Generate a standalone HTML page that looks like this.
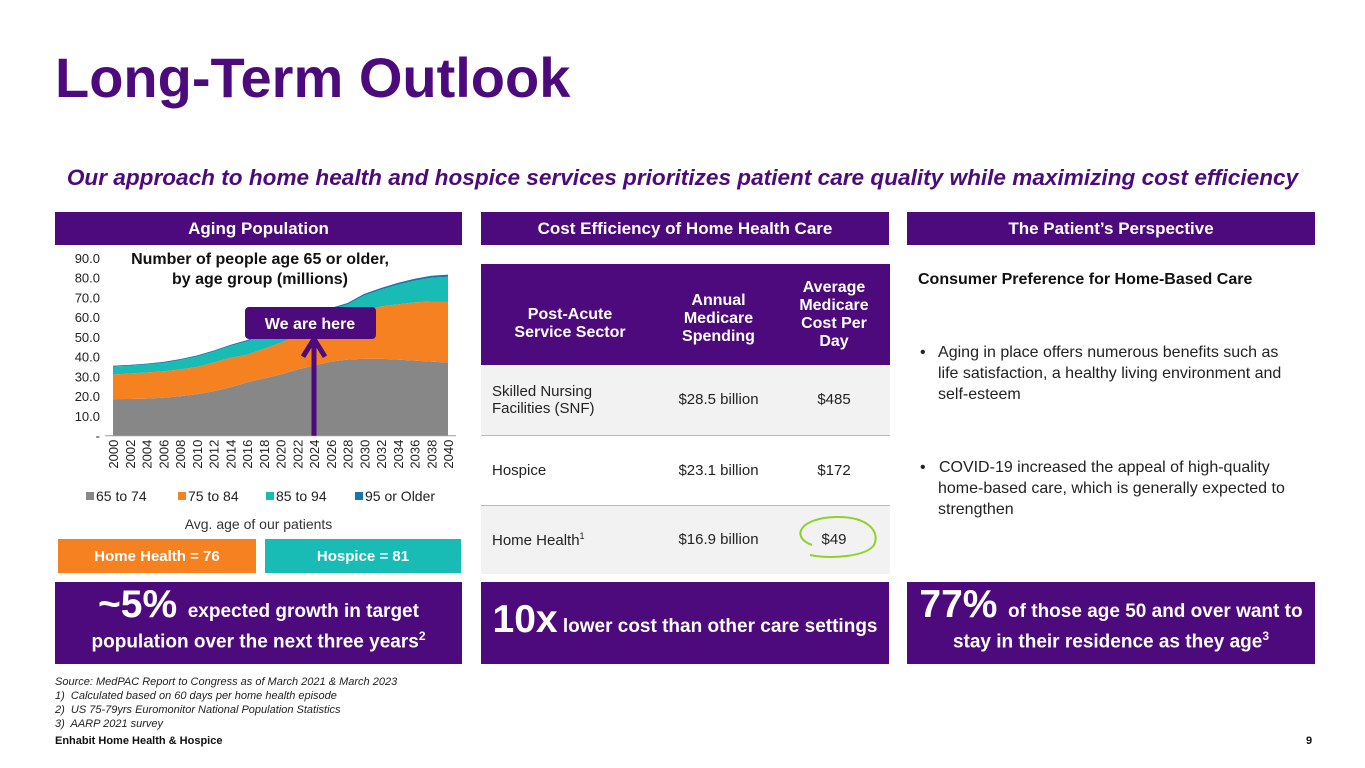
<!DOCTYPE html>
<html><head><meta charset="utf-8"><style>
body{margin:0;width:1365px;height:768px;background:#fff;font-family:"Liberation Sans",sans-serif;position:relative;overflow:hidden}
.a{position:absolute}
.hdr{position:absolute;top:212px;height:33px;background:#4d0a7c;color:#fff;font-weight:bold;font-size:17px;display:flex;align-items:center;justify-content:center}
.box{position:absolute;top:582px;height:82px;background:#4d0a7c;color:#fff;font-weight:bold;display:flex;flex-direction:column;align-items:center;justify-content:center;text-align:center;font-size:19px;line-height:25px}
.big{font-size:39px}
table{border-collapse:collapse}
td{font-size:15px;color:#222}
</style></head><body>
<div class="a" style="left:55px;top:45px;font-size:56px;font-weight:bold;color:#4d0a7c">Long-Term Outlook</div>
<div class="a" style="left:0;width:1365px;top:165px;text-align:center;font-size:22.6px;font-weight:bold;font-style:italic;color:#4d0a7c">Our approach to home health and hospice services prioritizes patient care quality while maximizing cost efficiency</div>
<div class="hdr" style="left:55px;width:407px">Aging Population</div>
<div class="hdr" style="left:481px;width:408px">Cost Efficiency of Home Health Care</div>
<div class="hdr" style="left:907px;width:408px">The Patient’s Perspective</div>

<svg class="a" style="left:0;top:245px" width="470" height="290" id="chart"></svg>
<div class="a" style="left:110px;top:250px;width:300px;text-align:center;font-size:16px;font-weight:bold;line-height:20px;color:#111">Number of people age 65 or older,<br>by age group (millions)</div>

<div class="a" style="left:55px;width:407px;top:516px;text-align:center;font-size:14px;color:#333">Avg. age of our patients</div>
<div class="a" style="left:58px;top:539px;width:198px;height:34px;background:#f68121;color:#fff;font-weight:bold;font-size:15px;display:flex;align-items:center;justify-content:center">Home Health = 76</div>
<div class="a" style="left:265px;top:539px;width:196px;height:34px;background:#18bcb5;color:#fff;font-weight:bold;font-size:15px;display:flex;align-items:center;justify-content:center">Hospice = 81</div>

<table class="a" style="left:481px;top:264px;width:409px">
<tr style="background:#4d0a7c;height:101px;color:#fff;font-weight:bold;text-align:center">
<td style="color:#fff;font-weight:bold;font-size:16px;width:176px;padding-top:20px">Post-Acute<br>Service Sector</td><td style="color:#fff;font-weight:bold;font-size:16px;width:117px;padding-top:10px">Annual<br>Medicare<br>Spending</td><td style="color:#fff;font-weight:bold;font-size:16px">Average<br>Medicare<br>Cost Per<br>Day</td></tr>
<tr style="background:#f2f2f2;height:70px;border-bottom:1px solid #bbb"><td style="padding-left:11px">Skilled Nursing<br>Facilities (SNF)</td><td style="text-align:center">$28.5 billion</td><td style="text-align:center">$485</td></tr>
<tr style="height:70px;border-bottom:1px solid #bbb"><td style="padding-left:11px">Hospice</td><td style="text-align:center">$23.1 billion</td><td style="text-align:center">$172</td></tr>
<tr style="background:#f2f2f2;height:69px"><td style="padding-left:11px">Home Health<sup style="font-size:9px">1</sup></td><td style="text-align:center">$16.9 billion</td><td style="text-align:center">$49</td></tr>
</table>
<svg class="a" style="left:790px;top:513px" width="92" height="50"><path d="M22 32 C0 24 10 5 45 4 C80 3 90 20 84 32 C76 44 40 46 20 42" fill="none" stroke="#8fd12a" stroke-width="2"/></svg>

<div class="a" style="left:918px;top:271px;font-size:16px;font-weight:bold;color:#111">Consumer Preference for Home-Based Care</div>
<div class="a" style="left:920px;top:342px;width:362px;font-size:16px;line-height:21px;color:#222;padding-left:18px;text-indent:-18px">•&nbsp;&nbsp; Aging in place offers numerous benefits such as life satisfaction, a healthy living environment and self-esteem</div>
<div class="a" style="left:920px;top:457px;width:372px;font-size:16px;line-height:21px;color:#222;padding-left:18px;text-indent:-18px">•&nbsp;&nbsp; COVID-19 increased the appeal of high-quality home-based care, which is generally expected to strengthen</div>

<div class="box" style="left:55px;width:407px"><div><span class="big">~5%</span>&nbsp; expected growth in target</div><div>population over the next three years<sup style="font-size:12px">2</sup></div></div>
<div class="box" style="left:481px;width:408px"><div><span class="big">10x</span> lower cost than other care settings</div></div>
<div class="box" style="left:907px;width:408px"><div><span class="big">77%</span>&nbsp; of those age 50 and over want to</div><div>stay in their residence as they age<sup style="font-size:12px">3</sup></div></div>

<div class="a" style="left:55px;top:675px;font-size:11px;font-style:italic;line-height:14px;color:#222">Source: MedPAC Report to Congress as of March 2021 &amp; March 2023<br>1)&nbsp; Calculated based on 60 days per home health episode<br>2)&nbsp; US 75-79yrs Euromonitor National Population Statistics<br>3)&nbsp; AARP 2021 survey</div>
<div class="a" style="left:55px;top:735px;font-size:11px;font-weight:bold;color:#111">Enhabit Home Health &amp; Hospice</div>
<div class="a" style="left:1306px;top:735px;font-size:11px;font-weight:bold;color:#111">9</div>

<script>
const years=[2000,2002,2004,2006,2008,2010,2012,2014,2016,2018,2020,2022,2024,2026,2028,2030,2032,2034,2036,2038,2040];
const age65to74=[18.5,18.6,18.8,19.2,20,21,22.5,24.5,27,29,31,33.5,35.5,37.5,38.5,39,39,38.5,38,37.5,37];
const age75to84=[12.5,12.9,13.2,13.4,13.5,13.8,14.5,15,14,15,16,17,17.5,19,21.5,24,26.5,28,29.5,30.5,31];
const age85to94=[4,4,4.1,4.3,4.8,5.3,5.6,6,6.8,7.8,7.2,7.5,7.3,7.5,6.5,8,8.5,10,11,12,12.5];
const age95plus=[0.4,0.4,0.4,0.5,0.5,0.5,0.5,0.5,0.6,0.6,0.6,0.6,0.7,0.7,0.7,0.8,0.8,0.9,1,1,1.1];
const yTicks=[0,10,20,30,40,50,60,70,80,90];
const legendLabels=["65 to 74","75 to 84","85 to 94","95 or Older"];
const colors=["#878787","#f68121","#18bcb5","#1a75a8"];
const svg=document.getElementById('chart');const NS="http://www.w3.org/2000/svg";
const X0=113,X1=448,YB=190.7,YT=13;
const x=yr=>X0+(yr-years[0])/(years[years.length-1]-years[0])*(X1-X0);
const y=v=>YB-v/90*(YB-YT);
function mk(t,a){const e=document.createElementNS(NS,t);for(const k in a)e.setAttribute(k,a[k]);svg.appendChild(e);return e;}
const series=[age65to74,age75to84,age85to94,age95plus];
let base=years.map(()=>0);
series.forEach((s,si)=>{const top=base.map((b,i)=>b+s[i]);
 let d="M"+years.map((yr,i)=>x(yr)+","+y(top[i])).join("L");
 for(let i=years.length-1;i>=0;i--)d+="L"+x(years[i])+","+y(base[i]);
 const p=mk('path',{d:d+"Z",fill:colors[si]});
 
 
 base=top;});
const ax=mk('line',{x1:105,x2:456,y1:YB,y2:YB,stroke:'#999'});

yTicks.forEach(v=>{const t=mk('text',{x:100,y:y(v)+5,'text-anchor':'end','font-size':13,fill:'#222'});t.textContent=v===0?'-':v.toFixed(1);
 });
years.forEach(yr=>{const t=mk('text',{transform:`translate(${x(yr)+5},${YB+4}) rotate(-90)`,'text-anchor':'end','font-size':13,fill:'#222'});t.textContent=yr;
 });
const lx=[86,178,266,355];
legendLabels.forEach((l,i)=>{const r=mk('rect',{x:lx[i],y:247,width:8,height:8,fill:colors[i]});
 
 const t=mk('text',{x:lx[i]+10,y:256,'font-size':14,fill:'#222'});t.textContent=l;
 });
const ar=mk('path',{d:`M${x(2024)},${YB} L${x(2024)},${y(47)} M${x(2024)-11},${y(40)} L${x(2024)},${y(49)} L${x(2024)+11},${y(40)}`,stroke:'#4d0a7c','stroke-width':5,fill:'none'});

const br=mk('rect',{x:245,y:62,width:131,height:32,rx:4,fill:'#4d0a7c'});

const bt=mk('text',{x:310,y:84,'text-anchor':'middle','font-size':16,'font-weight':'bold',fill:'#fff'});bt.textContent='We are here';

</script>
</body></html>
